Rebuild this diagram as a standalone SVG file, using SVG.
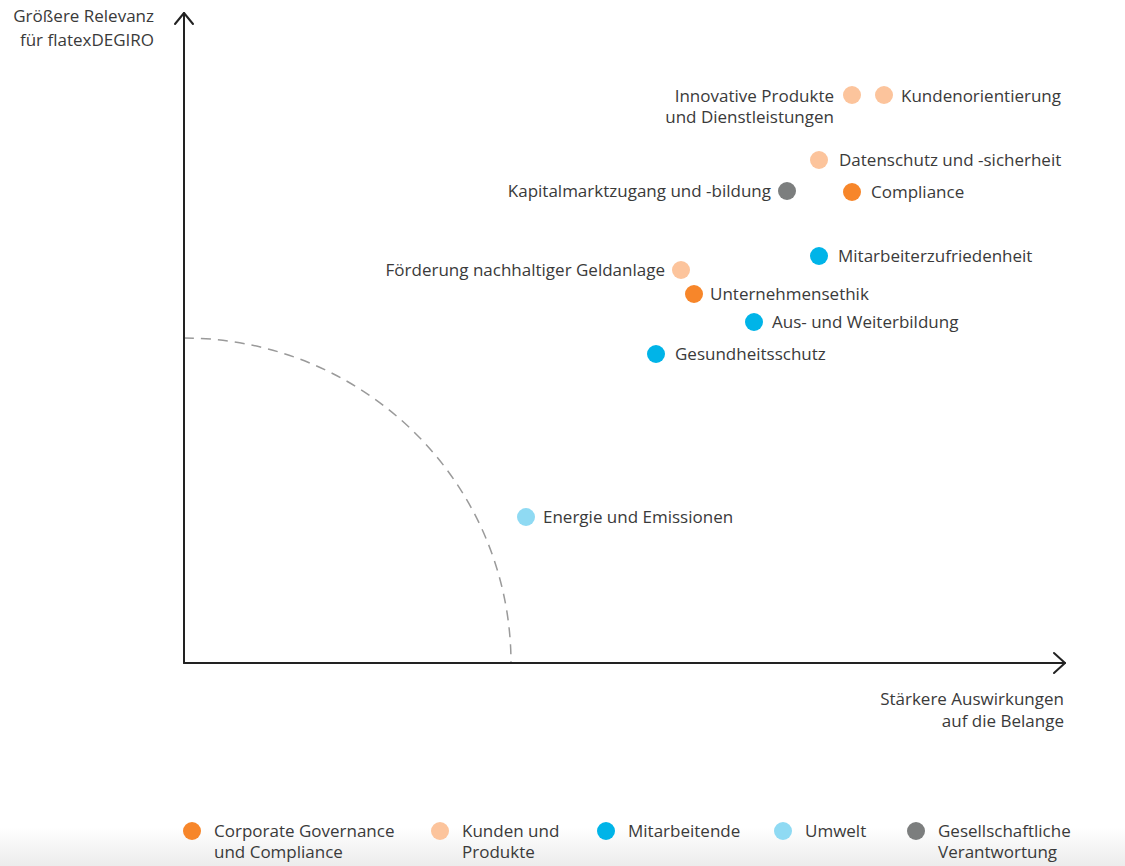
<svg xmlns="http://www.w3.org/2000/svg" width="1125" height="866" viewBox="0 0 1125 866">
<defs>
<linearGradient id="fade" x1="0" y1="0" x2="0" y2="1">
<stop offset="0" stop-color="#ffffff"/>
<stop offset="1" stop-color="#ececec"/>
</linearGradient>
<style>
text{font-family:"Open Sans","Liberation Sans",Arial,sans-serif;font-size:17px;fill:#3a3a3a}
.end{text-anchor:end}
.axis{fill:none;stroke:#222;stroke-width:2;stroke-linecap:round;stroke-linejoin:round}
.dash{fill:none;stroke:#9a9a9a;stroke-width:1.5;stroke-dasharray:10 7}
.cg{fill:#f7862a}
.kp{fill:#fcc49c}
.ma{fill:#00b4e8}
.um{fill:#8fdaf3}
.gv{fill:#7c7e7e}
</style>
</defs>
<rect x="0" y="0" width="1125" height="866" fill="#ffffff"/>
<rect x="0" y="828" width="1125" height="38" fill="url(#fade)"/>

<g id="connectors">
<path class="dash" d="M184,338 A327,325 0 0 1 511,663"/>
<path class="axis" d="M184,663 L184,13"/>
<path class="axis" d="M175,24 L184,13 L193,24"/>
<path class="axis" d="M184,663 L1065,663"/>
<path class="axis" d="M1054,653 L1065,663 L1054,673"/>
</g>

<g id="axis-y-label">
<text class="end" x="154" y="22">Größere Relevanz</text>
<text class="end" x="154" y="46">für flatexDEGIRO</text>
</g>
<g id="axis-x-label">
<text class="end" x="1064" y="705">Stärkere Auswirkungen</text>
<text class="end" x="1064" y="727">auf die Belange</text>
</g>

<g id="node-innovative">
<circle class="kp" cx="852" cy="95" r="9"/>
<text class="end" x="834" y="102">Innovative Produkte</text>
<text class="end" x="834" y="123">und Dienstleistungen</text>
</g>
<g id="node-kundenorientierung">
<circle class="kp" cx="884" cy="95" r="9"/>
<text x="901" y="102">Kundenorientierung</text>
</g>
<g id="node-datenschutz">
<circle class="kp" cx="819" cy="160" r="9"/>
<text x="839" y="166">Datenschutz und -sicherheit</text>
</g>
<g id="node-kapitalmarkt">
<circle class="gv" cx="787" cy="191" r="9"/>
<text class="end" x="771" y="197">Kapitalmarktzugang und -bildung</text>
</g>
<g id="node-compliance">
<circle class="cg" cx="852" cy="192" r="9"/>
<text x="871" y="198">Compliance</text>
</g>
<g id="node-mitarbeiterzufriedenheit">
<circle class="ma" cx="819" cy="256" r="9"/>
<text x="838" y="262">Mitarbeiterzufriedenheit</text>
</g>
<g id="node-foerderung">
<circle class="kp" cx="681" cy="270" r="9"/>
<text class="end" x="665" y="276">Förderung nachhaltiger Geldanlage</text>
</g>
<g id="node-unternehmensethik">
<circle class="cg" cx="694" cy="294" r="9"/>
<text x="710" y="300">Unternehmensethik</text>
</g>
<g id="node-weiterbildung">
<circle class="ma" cx="754" cy="322" r="9"/>
<text x="772" y="328">Aus- und Weiterbildung</text>
</g>
<g id="node-gesundheitsschutz">
<circle class="ma" cx="656" cy="354" r="9"/>
<text x="675" y="360">Gesundheitsschutz</text>
</g>
<g id="node-energie">
<circle class="um" cx="526" cy="517" r="9"/>
<text x="543" y="523">Energie und Emissionen</text>
</g>

<g id="legend">
<g id="legend-cg">
<circle class="cg" cx="192" cy="831" r="9"/>
<text x="214" y="837">Corporate Governance</text>
<text x="214" y="858">und Compliance</text>
</g>
<g id="legend-kp">
<circle class="kp" cx="440" cy="831" r="9"/>
<text x="462" y="837">Kunden und</text>
<text x="462" y="858">Produkte</text>
</g>
<g id="legend-ma">
<circle class="ma" cx="606" cy="831" r="9"/>
<text x="628" y="837">Mitarbeitende</text>
</g>
<g id="legend-um">
<circle class="um" cx="783" cy="831" r="9"/>
<text x="805" y="837">Umwelt</text>
</g>
<g id="legend-gv">
<circle class="gv" cx="916" cy="831" r="9"/>
<text x="938" y="837">Gesellschaftliche</text>
<text x="938" y="858">Verantwortung</text>
</g>
</g>
</svg>
